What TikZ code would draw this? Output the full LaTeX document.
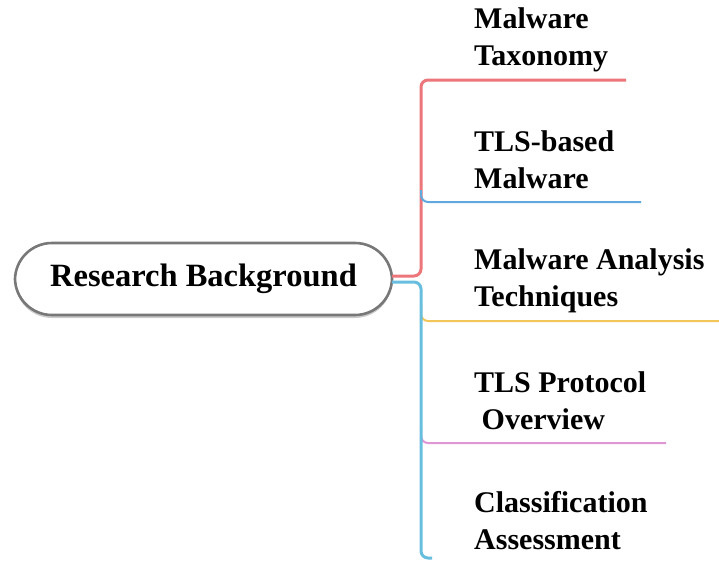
\documentclass[tikz,border=0pt]{standalone}
\usepackage{fontspec}
\setmainfont{Liberation Serif}
\usetikzlibrary{shadows}
\definecolor{cred}{RGB}{236,118,122}
\definecolor{cblue}{RGB}{96,168,222}
\definecolor{ccyan}{RGB}{104,190,222}
\definecolor{cyel}{RGB}{242,198,88}
\definecolor{cpink}{RGB}{222,150,212}
\definecolor{cgray}{RGB}{120,120,120}
\tikzset{
  rootbox/.style={draw=cgray, line width=2.6pt, fill=white, rectangle, rounded corners=37pt,
    minimum width=377pt, minimum height=72pt, inner sep=0pt,
    font=\fontsize{32.5}{37}\selectfont\bfseries,
    drop shadow={shadow xshift=0pt, shadow yshift=-3pt, opacity=0.2, fill=black}},
  leaf/.style={anchor=west, align=left, inner sep=0pt, font=\fontsize{30}{37}\selectfont\bfseries},
  trunk/.style={line width=3pt, rounded corners=7pt},
  branch/.style={line width=2pt, rounded corners=7pt},
}
\begin{document}
\begin{tikzpicture}[x=1pt,y=-1pt]
\useasboundingbox (0,0) rectangle (719,560);
\node[rootbox] (root) at (203.5,279) {Research Background};
\node[leaf] (t1) at (474,40) {Malware\\Taxonomy};
\node[leaf] (t2) at (474,160) {TLS-based\\Malware};
\node[leaf] (t3) at (474,281) {Malware Analysis\\Techniques};
\node[leaf] (t4) at (474,401) {TLS Protocol\\\ Overview};
\node[leaf] (t5) at (474,521) {Classification\\Assessment};
\coordinate (rs) at (392,276);
\coordinate (cs) at (392,282);
\coordinate (e1) at (626,80);
\coordinate (e2) at (641,202);
\coordinate (e3) at (719,321);
\coordinate (e4) at (666,443);
\coordinate (e5) at (432,558);
\coordinate (b2) at (421,190);
\coordinate (b3) at (421,305);
\coordinate (b4) at (421,430);
\draw[trunk, cred] (rs) -- (421,276) |- (e1);
\draw[branch, cblue] (b2) |- (e2);
\draw[branch, cyel] (b3) |- (e3);
\draw[branch, cpink] (b4) |- (e4);
\draw[trunk, ccyan] (cs) -- (421,282) |- (e5);
\end{tikzpicture}
\end{document}
